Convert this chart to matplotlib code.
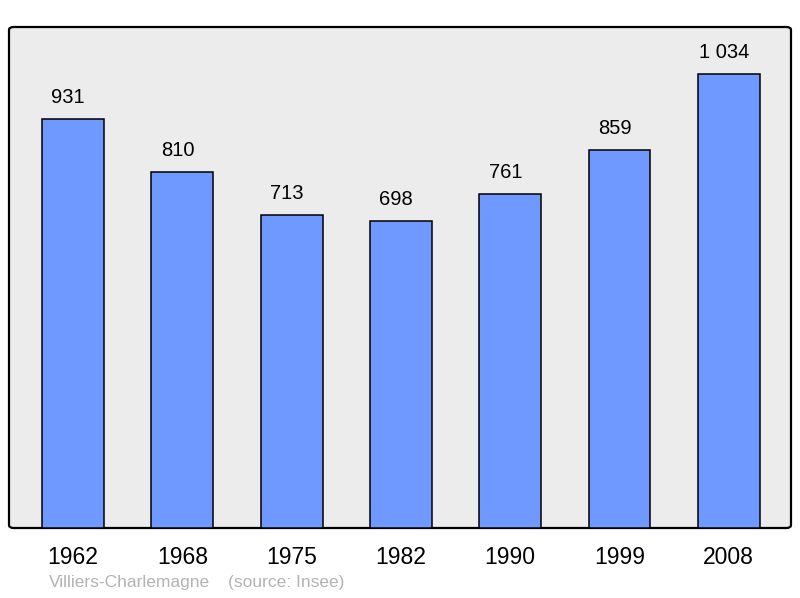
import matplotlib.pyplot as plt
from matplotlib.patches import FancyBboxPatch

years = ['1962', '1968', '1975', '1982', '1990', '1999', '2008']
population = [931, 810, 713, 698, 761, 859, 1034]
value_labels = ['931', '810', '713', '698', '761', '859', '1 034']
town = 'Villiers-Charlemagne'
source = '(source: Insee)'

plt.rcParams['font.family'] = ['Liberation Sans', 'DejaVu Sans']

fig = plt.figure(figsize=(8, 5.98), dpi=100)
ax = fig.add_axes([9 / 800, 70 / 598, 782 / 800, 501 / 598])
ax.patch.set_visible(False)
for s in ax.spines.values():
    s.set_visible(False)

# rounded frame behind the bars
frame = FancyBboxPatch((0, 0), 1, 1, boxstyle='round,pad=0,rounding_size=0.006',
                       transform=ax.transAxes, facecolor='#ececec',
                       edgecolor='black', linewidth=1.6, zorder=0, clip_on=False)
ax.add_patch(frame)

x = list(range(len(years)))
ax.bar(x, population, width=0.567, color='#7099ff', edgecolor='black',
       linewidth=1.1, zorder=2)

for xi, v, lab in zip(x, population, value_labels):
    ax.annotate(lab, (xi, v), xytext=(-3.4, 15.5), textcoords='offset points',
                ha='center', va='center', fontsize=14.5, color='black')

ax.set_xlim(-0.585, 6.569)
ax.set_ylim(0, 1140)
ax.set_xticks(x)
ax.set_xticklabels(years, fontsize=16.5)
ax.tick_params(axis='x', length=0, pad=13)
ax.set_yticks([])

fig.text(49 / 800, 1 - 583 / 598, town, fontsize=12.5, color='#b3b3b3', va='center')
fig.text(228 / 800, 1 - 583 / 598, source, fontsize=12.5, color='#b3b3b3', va='center')

fig.savefig('out.png', dpi=100, facecolor='white')
